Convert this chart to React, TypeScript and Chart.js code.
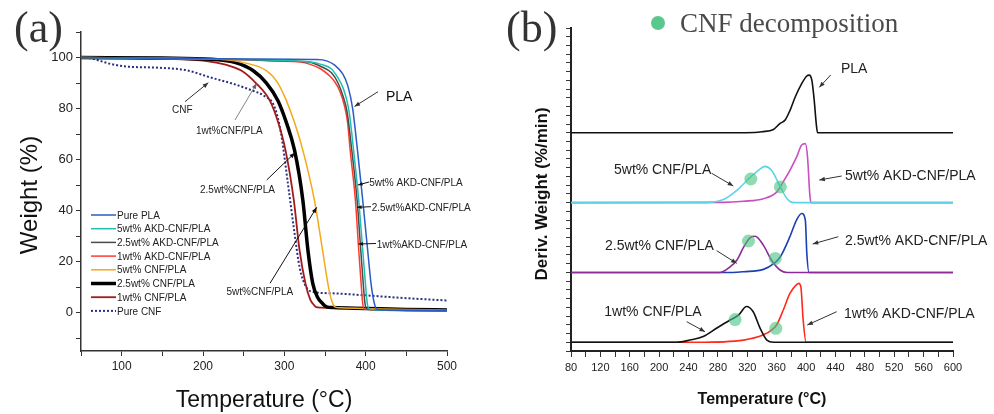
import React, { useEffect, useRef } from 'react';
import { Chart, registerables } from 'chart.js';
Chart.register(...registerables);

// ---------------- Panel (a): TGA weight curves ----------------
const aXTicks = [50, 100, 150, 200, 250, 300, 350, 400, 450, 500];
const aYTicks = [-10, 0, 10, 20, 30, 40, 50, 60, 70, 80, 90, 100, 110];

const tPurePLA = [50, 150, 250, 340, 352, 362, 372, 378, 384, 390, 396.4, 402.5, 406.6, 410.7, 414, 430, 500];
const wPurePLA = [100, 99.7, 99.4, 99.2, 98.7, 97, 93.5, 89, 80, 63.5, 44, 24.4, 11.4, 3.6, 1.3, 1.0, 0.8];

const t5AKD = [50, 150, 250, 300, 330, 345, 358, 366, 372, 377, 380, 385.2, 391.5, 396.4, 399.7, 402, 404.5, 420, 500];
const w5AKD = [100, 99.6, 99.2, 98.8, 98.3, 97.3, 95.5, 92, 88.3, 83, 78, 63.5, 44, 24.4, 11.4, 3.6, 1.5, 1.0, 0.8];

const t25AKD = [50, 150, 250, 300, 330, 345, 358, 366, 372, 377, 383, 389.5, 394, 397, 399.2, 401.5, 420, 500];
const w25AKD = [100, 99.6, 99.2, 98.7, 98.2, 96.5, 94, 90, 85, 79, 63.5, 44, 24.4, 11.4, 3.6, 1.5, 1.0, 0.8];

const t1AKD = [50, 150, 250, 290, 320, 331, 345, 355, 362, 368, 374, 378, 381, 387.4, 391.5, 394.4, 396.4, 398.5, 420, 500];
const w1AKD = [100, 99.6, 99.1, 98.6, 98.2, 97.4, 95.5, 93, 90.5, 87, 81, 74, 63.5, 44, 24.4, 11.4, 3.6, 1.5, 1.0, 0.8];

const t5CNF = [50, 150, 220, 250, 277.8, 292, 302.4, 312, 322.8, 337, 347, 353.5, 357, 359.6, 362, 370, 400, 450, 500];
const w5CNF = [100, 99.8, 99.3, 98, 94.9, 90, 83.2, 75, 63.6, 44, 24.5, 11.4, 6, 3.6, 2.3, 1.9, 1.6, 1.3, 1.0];

const t25CNF = [50, 150, 210, 240, 261.4, 278, 292, 302, 312.6, 322.8, 329, 335, 341, 347, 352, 360, 400, 450, 500];
const w25CNF = [100, 99.8, 99.3, 98, 94.9, 90, 83.2, 75, 63.6, 44, 24.5, 11.4, 6, 3.6, 2.3, 2.0, 1.7, 1.3, 1.1];

const t1CNF = [50, 150, 200, 230, 247, 265, 282, 292, 301.5, 311.7, 318.7, 326, 332, 335, 339, 345, 400, 450, 500];
const w1CNF = [100, 99.6, 98.8, 97, 94.9, 90, 83.2, 75, 63.6, 44, 24.5, 11.4, 5, 3.6, 2.2, 2.0, 1.6, 1.3, 1.1];

const tPureCNF = [50, 60, 70, 85, 105, 145, 180, 208, 237, 261, 275, 288, 296, 304.4, 312.6, 318.7, 327, 335, 360, 400, 450, 500];
const wPureCNF = [100, 99.8, 99, 97.6, 96.5, 96, 95, 92.3, 89.7, 87, 85, 80.6, 70.2, 50.6, 31, 17.9, 10, 8.2, 7.6, 6.8, 5.7, 4.8];

// ---------------- Panel (b): DTG curves (height above own baseline) ----------------
const bXTicks = [80, 100, 120, 140, 160, 180, 200, 220, 240, 260, 280, 300, 320, 340, 360, 380, 400, 420, 440, 460, 480, 500, 520, 540, 560, 580, 600];
const bYTicks = [0, 1, 2, 3, 4, 5, 6, 7, 8, 9, 10, 11, 12, 13, 14, 15, 16, 17, 18, 19, 20, 21, 22, 23, 24, 25, 26, 27, 28, 29, 30, 31, 32, 33, 34, 35, 36, 37];
const baseOffsets = { pla: 25, w5: 17, w25: 9, w1: 1 };

const bT_PLA = [80, 300, 330, 340, 355.6, 364.7, 371.5, 378.3, 385.2, 394.2, 401, 404.2, 407.9, 411, 413.8, 415.6, 420, 600];
const bD_PLA = [0, 0, 0.03, 0.12, 0.38, 1.07, 1.45, 2.6, 4.1, 5.65, 6.5, 6.6, 6.0, 3.8, 1.07, 0, 0, 0];

const bT_5AKD = [80, 287, 315, 342, 360, 369, 378, 387, 394, 399, 402, 405, 406.5, 600];
const bD_5AKD = [0, 0.02, 0.15, 0.45, 1.2, 2.4, 3.7, 5.2, 6.6, 6.75, 5.2, 1.0, 0, 0];

const bT_5CNF = [80, 262, 287.5, 305.7, 324, 335, 344, 353, 365, 374, 383, 600];
const bD_5CNF = [0, 0, 0.35, 1.4, 2.9, 3.7, 4.15, 3.7, 1.8, 0.45, 0, 0];

const bT_25AKD = [80, 300, 315, 342, 356, 365, 378, 387, 394, 399, 401, 404, 600];
const bD_25AKD = [0, 0, 0.08, 0.35, 1.0, 1.8, 4.1, 6.0, 6.75, 6.0, 2.2, 0, 0];

const bT_25CNF = [80, 283, 296.6, 305.7, 315, 324, 330.7, 342, 353, 365, 374, 600];
const bD_25CNF = [0, 0, 0.65, 1.4, 2.9, 4.0, 4.15, 3.1, 1.4, 0.25, 0, 0];

const bT_1AKD = [80, 251, 315, 342, 353, 360, 369, 378, 387, 390, 393, 396, 400, 600];
const bD_1AKD = [0, 0, 0.25, 0.85, 1.4, 2.0, 3.7, 5.6, 6.6, 6.75, 6.3, 2.6, 0, 0];

const bT_1CNF = [80, 224, 242, 260, 278, 296.6, 308, 319, 328, 337.5, 346.6, 356, 600];
const bD_1CNF = [0, 0, 0.25, 0.65, 1.6, 2.55, 3.1, 4.1, 3.5, 1.6, 0.25, 0, 0];

// CNF decomposition markers (temperature, plotted position)
const dotT = [324.8, 365, 321.6, 358, 303.4, 358.8];
const dotY = [19.7, 18.8, 12.6, 10.6, 3.6, 2.6];

const SANS = '"Liberation Sans", Arial, sans-serif';
const SERIF = '"Liberation Serif", "Times New Roman", serif';

const pts = (xs: number[], ys: number[], off = 0) => xs.map((x, i) => ({ x, y: ys[i] + off }));

function arrow(ctx: CanvasRenderingContext2D, x1: number, y1: number, x2: number, y2: number, color = '#222', lw = 1, head = 6) {
  ctx.save();
  ctx.strokeStyle = color;
  ctx.fillStyle = color;
  ctx.lineWidth = lw;
  ctx.beginPath();
  ctx.moveTo(x1, y1);
  ctx.lineTo(x2, y2);
  ctx.stroke();
  const a = Math.atan2(y2 - y1, x2 - x1);
  ctx.beginPath();
  ctx.moveTo(x2, y2);
  ctx.lineTo(x2 - head * Math.cos(a - 0.38), y2 - head * Math.sin(a - 0.38));
  ctx.lineTo(x2 - head * Math.cos(a + 0.38), y2 - head * Math.sin(a + 0.38));
  ctx.closePath();
  ctx.fill();
  ctx.restore();
}

function text(ctx: CanvasRenderingContext2D, s: string, x: number, y: number, font: string, color = '#222', align: CanvasTextAlign = 'left') {
  ctx.save();
  ctx.font = font;
  ctx.fillStyle = color;
  ctx.textAlign = align;
  ctx.textBaseline = 'alphabetic';
  ctx.fillText(s, x, y);
  ctx.restore();
}

function lineDs(label: string, xs: number[], ys: number[], color: string, width = 1.5, off = 0, dash: number[] = []) {
  return {
    label,
    data: pts(xs, ys, off),
    borderColor: color,
    backgroundColor: color,
    borderWidth: width,
    borderDash: dash,
    pointRadius: 0,
    fill: false,
    cubicInterpolationMode: 'monotone' as const,
  };
}

const annotA = {
  id: 'annotA',
  afterDraw(chart: any) {
    const ctx: CanvasRenderingContext2D = chart.ctx;
    text(ctx, '(a)', 14, 42, `44px ${SERIF}`, '#333');
    ctx.save();
    ctx.translate(37, 195);
    ctx.rotate(-Math.PI / 2);
    text(ctx, 'Weight (%)', 0, 0, `24px ${SANS}`, '#111', 'center');
    ctx.restore();
    text(ctx, 'Temperature (°C)', 264, 407, `23px ${SANS}`, '#111', 'center');
    const ds = chart.data.datasets;
    ds.forEach((d: any, i: number) => {
      const y = 215 + i * 13.7;
      ctx.save();
      ctx.strokeStyle = d.borderColor;
      ctx.lineWidth = d.borderWidth;
      ctx.setLineDash(d.borderDash || []);
      ctx.beginPath();
      ctx.moveTo(91, y);
      ctx.lineTo(116, y);
      ctx.stroke();
      ctx.restore();
      text(ctx, d.label, 117, y + 3.6, `10px ${SANS}`, '#222');
    });
    const f = `10px ${SANS}`;
    text(ctx, 'PLA', 386, 101, `14px ${SANS}`, '#111');
    arrow(ctx, 378, 91.7, 354.5, 106.5, '#333', 1, 6);
    text(ctx, 'CNF', 172, 113, f);
    arrow(ctx, 185, 101.7, 208.3, 82.7, '#333', 1, 6);
    text(ctx, '1wt%CNF/PLA', 196, 134, f);
    arrow(ctx, 235, 120, 256.7, 83.3, '#666', 0.8, 6);
    text(ctx, '2.5wt%CNF/PLA', 200, 192.5, f);
    arrow(ctx, 266.7, 180, 295, 152.7, '#111', 1, 6);
    text(ctx, '5wt%CNF/PLA', 226.5, 295, f);
    arrow(ctx, 270, 283.3, 316.7, 207.3, '#111', 1, 6);
    text(ctx, '5wt% AKD-CNF/PLA', 369.3, 186, f);
    arrow(ctx, 369, 182, 358, 185, '#111', 1, 5);
    text(ctx, '2.5wt%AKD-CNF/PLA', 371.7, 210.5, f);
    arrow(ctx, 371, 206.7, 357, 207.3, '#111', 1, 5);
    text(ctx, '1wt%AKD-CNF/PLA', 376.7, 247.5, f);
    arrow(ctx, 376, 243.5, 358.5, 244, '#111', 1, 5);
  },
};

const annotB = {
  id: 'annotB',
  afterDraw(chart: any) {
    const ctx: CanvasRenderingContext2D = chart.ctx;
    text(ctx, '(b)', 12, 42, `44px ${SERIF}`, '#333');
    ctx.save();
    ctx.fillStyle = 'rgba(60,190,120,0.85)';
    ctx.beginPath();
    ctx.arc(164, 23, 7, 0, Math.PI * 2);
    ctx.fill();
    ctx.restore();
    text(ctx, 'CNF decomposition', 186, 32, `27px ${SERIF}`, '#4a4a4a');
    ctx.save();
    ctx.translate(53, 194);
    ctx.rotate(-Math.PI / 2);
    text(ctx, 'Deriv. Weight (%/min)', 0, 0, `bold 17px ${SANS}`, '#111', 'center');
    ctx.restore();
    text(ctx, 'Temperature (°C)', 268, 404, `bold 16px ${SANS}`, '#111', 'center');
    const f = `14px ${SANS}`;
    text(ctx, 'PLA', 347, 73, f);
    arrow(ctx, 336.7, 75, 325.3, 87.3, '#333', 1, 6);
    text(ctx, '5wt% CNF/PLA', 120, 173.5, f);
    arrow(ctx, 217.7, 173.3, 239.3, 186, '#333', 1, 6);
    text(ctx, '5wt% AKD-CNF/PLA', 351, 180, f);
    arrow(ctx, 347.7, 176, 325.3, 180, '#333', 1, 6);
    text(ctx, '2.5wt% CNF/PLA', 111, 250, f);
    arrow(ctx, 222.7, 250.7, 242.7, 263.3, '#333', 1, 6);
    text(ctx, '2.5wt% AKD-CNF/PLA', 351, 244.5, f);
    arrow(ctx, 344.3, 236.7, 318.7, 244, '#333', 1, 6);
    text(ctx, '1wt% CNF/PLA', 110.3, 316, f);
    arrow(ctx, 192.7, 321.7, 211, 331.7, '#333', 1, 6);
    text(ctx, '1wt% AKD-CNF/PLA', 350, 318, f);
    arrow(ctx, 342.7, 311.7, 313.3, 325, '#333', 1, 6);
  },
};

export default function App() {
  const refA = useRef<HTMLCanvasElement>(null);
  const refB = useRef<HTMLCanvasElement>(null);

  useEffect(() => {
    const axisGrid = (len: number) => ({
      display: true,
      drawOnChartArea: false,
      drawTicks: true,
      tickLength: len,
      color: '#333',
      lineWidth: 1,
    });

    const chartA = new Chart(refA.current as HTMLCanvasElement, {
      type: 'line',
      data: {
        datasets: [
          lineDs('Pure PLA', tPurePLA, wPurePLA, '#2a5cc4', 1.5),
          lineDs('5wt% AKD-CNF/PLA', t5AKD, w5AKD, '#1fbfb0', 1.5),
          lineDs('2.5wt% AKD-CNF/PLA', t25AKD, w25AKD, '#4a4a4a', 1.5),
          lineDs('1wt% AKD-CNF/PLA', t1AKD, w1AKD, '#ff3b30', 1.5),
          lineDs('5wt% CNF/PLA', t5CNF, w5CNF, '#f5a81c', 1.5),
          lineDs('2.5wt% CNF/PLA', t25CNF, w25CNF, '#000000', 3.5),
          lineDs('1wt% CNF/PLA', t1CNF, w1CNF, '#a31a1a', 1.8),
          lineDs('Pure CNF', tPureCNF, wPureCNF, '#2b2f80', 2, 0, [2, 2]),
        ],
      },
      options: {
        responsive: false,
        animation: false,
        layout: { padding: { left: 0, top: 32, right: 47, bottom: 0 } },
        plugins: { legend: { display: false }, tooltip: { enabled: false } },
        scales: {
          x: {
            type: 'linear',
            min: 50,
            max: 500,
            afterBuildTicks: (s: any) => { s.ticks = aXTicks.map((v) => ({ value: v })); },
            afterFit: (s: any) => { s.height = 63; },
            ticks: {
              autoSkip: false,
              maxRotation: 0,
              padding: 3,
              color: '#222',
              font: { family: SANS, size: 12 },
              callback: (v: any) => (Number(v) % 100 === 0 ? String(v) : ''),
            },
            grid: axisGrid(5),
            border: { display: true, color: '#333', width: 1.5 },
          },
          y: {
            type: 'linear',
            min: -15,
            max: 110,
            afterBuildTicks: (s: any) => { s.ticks = aYTicks.map((v) => ({ value: v })); },
            afterFit: (s: any) => { s.width = 81; },
            ticks: {
              autoSkip: false,
              padding: 3,
              color: '#222',
              font: { family: SANS, size: 13 },
              callback: (v: any) => {
                const n = Number(v);
                return n >= 0 && n <= 100 && n % 20 === 0 ? String(n) : '';
              },
            },
            grid: axisGrid(5),
            border: { display: true, color: '#333', width: 1.5 },
          },
        },
      },
      plugins: [annotA],
    } as any);

    const chartB = new Chart(refB.current as HTMLCanvasElement, {
      type: 'line',
      data: {
        datasets: [
          {
            label: 'CNF decomposition',
            data: pts(dotT, dotY),
            showLine: false,
            pointRadius: 6.5,
            pointBorderWidth: 0,
            pointBackgroundColor: 'rgba(70,195,125,0.6)',
            borderColor: 'rgba(0,0,0,0)',
          },
          lineDs('PLA', bT_PLA, bD_PLA, '#111111', 1.6, baseOffsets.pla),
          lineDs('5wt% CNF/PLA', bT_5CNF, bD_5CNF, '#5fd3e6', 1.6, baseOffsets.w5),
          lineDs('5wt% AKD-CNF/PLA', bT_5AKD, bD_5AKD, '#c84fc0', 1.6, baseOffsets.w5),
          lineDs('2.5wt% CNF/PLA', bT_25CNF, bD_25CNF, '#8e2a96', 1.6, baseOffsets.w25),
          lineDs('2.5wt% AKD-CNF/PLA', bT_25AKD, bD_25AKD, '#1c3fb5', 1.6, baseOffsets.w25),
          lineDs('1wt% CNF/PLA', bT_1CNF, bD_1CNF, '#111111', 1.6, baseOffsets.w1),
          lineDs('1wt% AKD-CNF/PLA', bT_1AKD, bD_1AKD, '#ff2a1a', 1.6, baseOffsets.w1),
        ],
      },
      options: {
        responsive: false,
        animation: false,
        layout: { padding: { left: 0, top: 28, right: 41, bottom: 0 } },
        plugins: { legend: { display: false }, tooltip: { enabled: false } },
        scales: {
          x: {
            type: 'linear',
            min: 80,
            max: 600,
            afterBuildTicks: (s: any) => { s.ticks = bXTicks.map((v) => ({ value: v })); },
            afterFit: (s: any) => { s.height = 63; },
            ticks: {
              autoSkip: false,
              maxRotation: 0,
              padding: 4,
              color: '#222',
              font: { family: SANS, size: 11 },
              callback: (v: any) => ((Number(v) - 80) % 40 === 0 ? String(v) : ''),
            },
            grid: axisGrid(6),
            border: { display: true, color: '#222', width: 2 },
          },
          y: {
            type: 'linear',
            min: 0,
            max: 37,
            afterBuildTicks: (s: any) => { s.ticks = bYTicks.map((v) => ({ value: v })); },
            afterFit: (s: any) => { s.width = 77; },
            ticks: {
              autoSkip: false,
              color: '#222',
              font: { family: SANS, size: 11 },
              callback: () => '',
            },
            grid: axisGrid(5),
            border: { display: true, color: '#222', width: 2 },
          },
        },
      },
      plugins: [annotB],
    } as any);

    return () => {
      chartA.destroy();
      chartB.destroy();
    };
  }, []);

  return (
    <div style={{ position: 'absolute', left: 0, top: 0, width: 994, height: 414, background: '#ffffff' }}>
      <canvas ref={refA} width={494} height={414} style={{ position: 'absolute', left: 0, top: 0 }} />
      <canvas ref={refB} width={500} height={414} style={{ position: 'absolute', left: 494, top: 0 }} />
    </div>
  );
}
